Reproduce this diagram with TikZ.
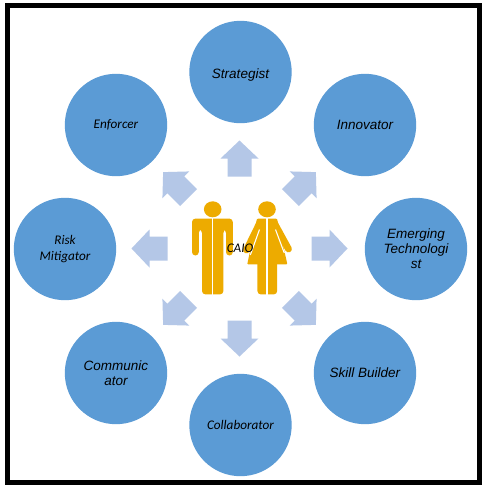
\documentclass[tikz,border=0pt]{standalone}
\usepackage{fontspec}
\usetikzlibrary{calc}
\setmainfont{Liberation Sans}
\newfontfamily\calfont{Carlito}
\definecolor{rolefill}{HTML}{5B9BD5}
\definecolor{arrowfill}{HTML}{B4C7E7}
\definecolor{figfill}{HTML}{EDAB00}
\tikzset{
  role/.style={circle,fill=rolefill,draw=none,minimum size=102.4pt,inner sep=0pt,align=center,font=\fontsize{13.5}{15}\selectfont\itshape,text=black},
  rolecal/.style={role,font=\calfont\fontsize{13.2}{15.5}\selectfont\itshape},
  arrowshape/.style={fill=arrowfill,draw=none},
  fig/.style={fill=figfill,draw=none},
  limb/.style={draw=figfill,line width=6.8pt,line cap=round},
  slit/.style={draw=white,line width=1.1pt}
}
\begin{document}
\begin{tikzpicture}[x=1pt,y=-1pt]
\useasboundingbox (0,0) rectangle (484,490);
\fill[white] (0,0) rectangle (484,490);
\draw[black,line width=5pt] (7.5,5.5) rectangle (479.5,482.5);
% role circles
\node[role,text height=15pt,text depth=3pt] (strategist) at (240.5,72) {Strategist};
\node[role]    (innovator)  at (365,125)   {Innovator};
\node[role]    (emerging)   at (416,249)   {Emerging\\Technologi\\st};
\node[role]    (skill)      at (365,373)   {Skill Builder};
\node[rolecal] (collab)     at (240.5,425) {Collaborator};
\node[role]    (communic)   at (116,373)   {Communic\\ator};
\node[rolecal] (risk)       at (65,249)    {Risk\\Mitigator};
\node[rolecal] (enforcer)   at (116,125)   {Enforcer};
% block arrows around the centre
\foreach \a in {0,45,...,315}{
  \fill[arrowshape,shift={(239.5,248.5)}]
    ($(\a:72)+(\a+90:12)$) -- ($(\a:90)+(\a+90:12)$) -- ($(\a:90)+(\a+90:19)$)
    -- (\a:108) -- ($(\a:90)+(\a-90:19)$) -- ($(\a:90)+(\a-90:12)$)
    -- ($(\a:72)+(\a-90:12)$) -- cycle;
}
% man
\fill[fig] (212.7,209.3) ellipse [x radius=8.8pt,y radius=8pt];
\fill[fig,rounded corners=3.4pt]
  (212.7,218.6) -- (192,218.6) -- (192,255.5) -- (198.8,255.5) -- (198.8,229.5)
  -- (202,229.5) -- (202,294.4) -- (223.4,294.4) -- (223.4,229.5) -- (226,229.5)
  -- (226,255.5) -- (232.8,255.5) -- (232.8,218.6) -- cycle;
\draw[slit] (212.7,218) -- (212.7,295);
% woman
\fill[fig] (267,209.3) ellipse [x radius=8.8pt,y radius=8pt];
\draw[limb] (260,222.5) -- (246.5,250);
\draw[limb] (274,222.5) -- (288.5,249);
\fill[fig,rounded corners=1pt] (257,218.6) -- (277,218.6) -- (287.4,264.4) -- (247.2,264.4) -- cycle;
\fill[fig,rounded corners=3.4pt] (257.4,260) -- (257.4,294.4) -- (277.2,294.4) -- (277.2,260) -- cycle;
\draw[slit] (267,218) -- (267,295);
\draw[slit] (259.5,229.5) -- (250.3,255);
\draw[slit] (275.5,229.5) -- (284.3,253);
% centre label
\node[font=\calfont\fontsize{13.2}{15}\selectfont\itshape,inner sep=0pt] (caio) at (240,248) {CAIO};
\end{tikzpicture}
\end{document}
